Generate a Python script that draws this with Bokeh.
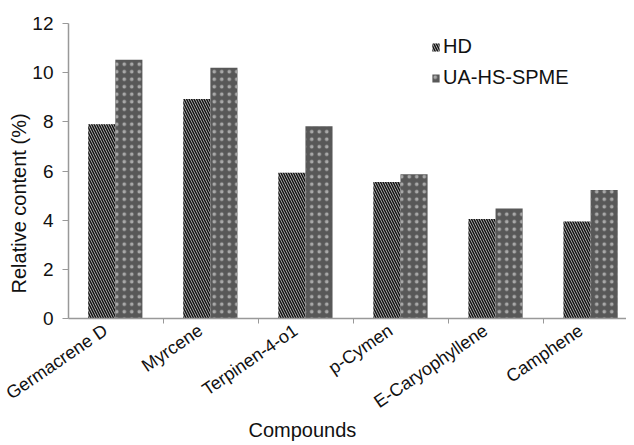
import math
from bokeh.plotting import figure
from bokeh.models import (Range1d, FixedTicker, Legend, LegendItem, Title,
                          ColumnDataSource)
from bokeh.transform import dodge
from bokeh.embed import file_html
from bokeh.resources import INLINE

# ---- data ----
compounds = ["Germacrene D", "Myrcene", "Terpinen-4-o1", "p-Cymen",
             "E-Caryophyllene", "Camphene"]
hd_values = [7.9, 8.93, 5.93, 5.55, 4.05, 3.95]
ua_values = [10.53, 10.2, 7.82, 5.87, 4.47, 5.23]
y_ticks = [0, 2, 4, 6, 8, 10, 12]
series_names = ["HD", "UA-HS-SPME"]

FONT = "Liberation Sans"
n = len(compounds)
centers = [i + 0.5 for i in range(n)]
label_pos = [c - 0.11 for c in centers]
boundaries = [i for i in range(1, n)]

src = ColumnDataSource(dict(x=centers, hd=hd_values, ua=ua_values))

p = figure(width=626, height=443, x_range=Range1d(0, 5.87),
           y_range=Range1d(0, 12), output_backend="svg",
           toolbar_location=None, min_border_left=68, min_border_top=23,
           min_border_right=0, min_border_bottom=125)
p.outline_line_color = None
p.xgrid.visible = False
p.ygrid.visible = False

r_hd = p.vbar(x=dodge("x", -0.15, range=p.x_range), top="hd", width=0.285,
              source=src, fill_color="#c8c8c8", line_color=None,
              hatch_pattern="\\", hatch_color="#151515", hatch_scale=5,
              hatch_weight=1.6)
r_ua = p.vbar(x=dodge("x", 0.135, range=p.x_range), top="ua", width=0.285,
              source=src, fill_color="#585858", line_color=None,
              hatch_pattern=".", hatch_color="#a8a8a8", hatch_scale=7.5,
              hatch_weight=1.0)

# axes
ax = p.xaxis[0]
ax.ticker = FixedTicker(ticks=label_pos, minor_ticks=boundaries)
ax.major_label_overrides = {c: name for c, name in zip(label_pos, compounds)}
ax.major_label_orientation = 0.6
ax.major_tick_out = 0
ax.major_tick_in = 0
ax.minor_tick_out = 5
ax.minor_tick_in = 0
ax.minor_tick_line_color = "#999999"
ax.axis_line_color = "#999999"
ax.axis_line_width = 1.5
ax.major_label_text_font = FONT
ax.major_label_text_font_size = "18px"
ax.major_label_text_color = "#111111"
ax.major_label_standoff = 5

ay = p.yaxis[0]
ay.ticker = FixedTicker(ticks=y_ticks, minor_ticks=[])
ay.major_tick_out = 6
ay.major_tick_in = 0
ay.major_tick_line_color = "#999999"
ay.axis_line_color = "#999999"
ay.axis_line_width = 1.5
ay.major_label_text_font = FONT
ay.major_label_text_font_size = "19px"
ay.major_label_text_color = "#111111"
ay.major_label_standoff = 9

# axis titles
p.add_layout(Title(text="Compounds", align="left", offset=180,
                   vertical_align="middle",
                   text_font=FONT, text_font_size="20px",
                   text_font_style="normal", text_color="#111111",
                   standoff=-12), "below")
p.add_layout(Title(text="Relative content (%)", align="left", offset=25,
                   text_font=FONT, text_font_size="20px",
                   text_font_style="normal", text_color="#111111",
                   standoff=0), "left")

legend = Legend(items=[LegendItem(label=series_names[0], renderers=[r_hd]),
                       LegendItem(label=series_names[1], renderers=[r_ua])],
                location=(363, 229), padding=0, margin=0, spacing=8,
                glyph_width=9, glyph_height=10, label_height=20,
                label_standoff=3, label_text_font=FONT,
                label_text_font_size="20px", label_text_color="#111111",
                background_fill_alpha=0, border_line_alpha=0)
p.add_layout(legend)

open("out.html", "w").write(file_html(p, INLINE))
